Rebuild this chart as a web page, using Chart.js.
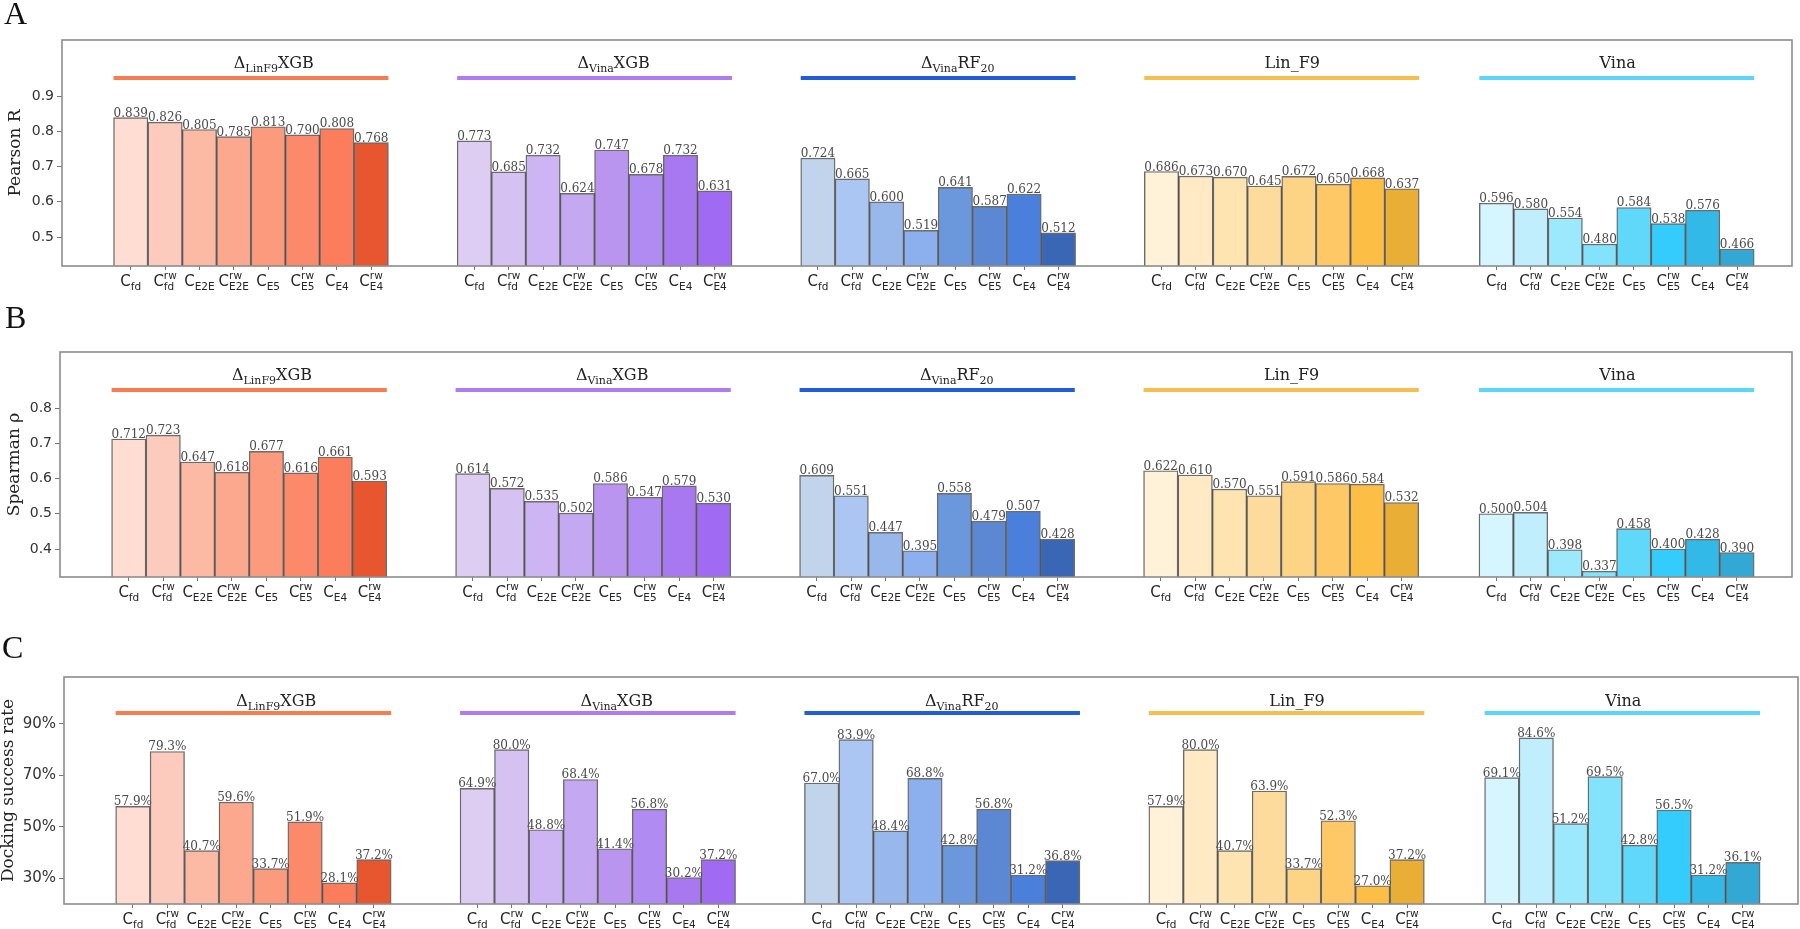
<!DOCTYPE html>
<html>
<head>
<meta charset="utf-8">
<script src="https://cdn.jsdelivr.net/npm/chart.js@4.4.0/dist/chart.umd.min.js"></script>
<style>
body{margin:0;background:#fff;width:1800px;height:929px;overflow:hidden;position:relative}
canvas{position:absolute;left:0}
</style>
</head>
<body>
<canvas id="chartA" width="1800" height="300" style="top:0px"></canvas>
<canvas id="chartB" width="1800" height="310" style="top:300px"></canvas>
<canvas id="chartC" width="1800" height="319" style="top:610px"></canvas>
<script>
// x tick labels: C with subscript / superscript
let configSubs = ["fd","fd","E2E","E2E","E5","E5","E4","E4"]
let configSups = ["","rw","","rw","","rw","","rw"]

// group titles, [text, "sub" | ""]
let groupTitles = [
    [["Δ",""],["LinF9","sub"],["XGB",""]],
    [["Δ",""],["Vina","sub"],["XGB",""]],
    [["Δ",""],["Vina","sub"],["RF",""],["20","sub"]],
    [["Lin_F9",""]],
    [["Vina",""]]
]

// A - Pearson R
let pearsonR = [
    [0.839,0.826,0.805,0.785,0.813,0.790,0.808,0.768],
    [0.773,0.685,0.732,0.624,0.747,0.678,0.732,0.631],
    [0.724,0.665,0.600,0.519,0.641,0.587,0.622,0.512],
    [0.686,0.673,0.670,0.645,0.672,0.650,0.668,0.637],
    [0.596,0.580,0.554,0.480,0.584,0.538,0.576,0.466]
]
let pearsonTicks = [0.5,0.6,0.7,0.8,0.9]

// B - Spearman rho
let spearmanRho = [
    [0.712,0.723,0.647,0.618,0.677,0.616,0.661,0.593],
    [0.614,0.572,0.535,0.502,0.586,0.547,0.579,0.530],
    [0.609,0.551,0.447,0.395,0.558,0.479,0.507,0.428],
    [0.622,0.610,0.570,0.551,0.591,0.586,0.584,0.532],
    [0.500,0.504,0.398,0.337,0.458,0.400,0.428,0.390]
]
let spearmanTicks = [0.4,0.5,0.6,0.7,0.8]

// C - docking success rate (%)
let dockingRate = [
    [57.9,79.3,40.7,59.6,33.7,51.9,28.1,37.2],
    [64.9,80.0,48.8,68.4,41.4,56.8,30.2,37.2],
    [67.0,83.9,48.4,68.8,42.8,56.8,31.2,36.8],
    [57.9,80.0,40.7,63.9,33.7,52.3,27.0,37.2],
    [69.1,84.6,51.2,69.5,42.8,56.5,31.2,36.1]
]
let dockingTicks = [30,50,70,90]

// layout / style
let groupStart = [0,10,20,30,39.75]
let lineColors = ["#f57d50","#b07bf0","#1f5ed6","#f5be4e","#5bd6fa"]
let barColors = [
    ["#ffddd3","#fdcbbe","#fcb9a4","#fca88f","#fc9a7e","#fc8a6a","#fb7d5b","#e8562f"],
    ["#ddcdf2","#d5c2f2","#ccb5f2","#c4a8f2","#b995f0","#b08bf2","#a878f0","#a06af2"],
    ["#c2d3ec","#abc6f2","#98b8ec","#8cb0ee","#6b97dc","#5c88d3","#4a80dc","#3a66b6"],
    ["#fff2d9","#ffeac5","#fee4b0","#fddb9c","#fdd385","#fdc865","#fdbe45","#e8ae35"],
    ["#d6f6ff","#c0eefc","#9ce8fd","#84e3fc","#5fd8fa","#34ccfc","#33b9e8","#34a8d4"]
]

Chart.defaults.font.family = "'DejaVu Sans', sans-serif"

function drawRich(ctx, segs, x, y, font, subFont, subShift){
    let cx = x
    for(let s of segs){
        ctx.font = s[1] === "sub" ? subFont : font
        ctx.fillText(s[0], cx, s[1] === "sub" ? y + subShift : y)
        cx += ctx.measureText(s[0]).width
    }
}

function decorPlugin(p){
    return {
        id: "decor" + p.letter,
        afterDraw(chart){
            let ctx = chart.ctx
            let area = chart.chartArea
            let xs = chart.scales.x
            let ys = chart.scales.y
            ctx.save()

            // frame
            ctx.strokeStyle = "#8c8c8c"
            ctx.lineWidth = 1.6
            ctx.strokeRect(area.left, area.top, area.right - area.left, area.bottom - area.top)

            // value labels
            let meta = chart.getDatasetMeta(0)
            ctx.fillStyle = "#4a4a4a"
            ctx.font = "12px 'DejaVu Serif'"
            ctx.textAlign = "center"
            ctx.textBaseline = "alphabetic"
            meta.data.forEach((bar, idx) => {
                let v = chart.data.datasets[0].data[idx].y
                ctx.fillText(p.fmt(v), bar.x, bar.y - 1)
            })

            // x tick labels
            ctx.fillStyle = "#262626"
            ctx.textAlign = "left"
            groupStart.forEach(g => {
                configSubs.forEach((sub, i) => {
                    let cx = xs.getPixelForValue(g + i)
                    ctx.font = "15px 'DejaVu Sans'"
                    let wC = ctx.measureText("C").width
                    ctx.font = "10.5px 'DejaVu Sans'"
                    let wS = Math.max(ctx.measureText(sub).width, ctx.measureText(configSups[i]).width)
                    let left = cx - (wC + wS) / 2
                    let base = area.bottom + 20
                    ctx.font = "15px 'DejaVu Sans'"
                    ctx.fillText("C", left, base)
                    ctx.font = "10.5px 'DejaVu Sans'"
                    ctx.fillText(sub, left + wC, base + 4)
                    if(configSups[i]) ctx.fillText(configSups[i], left + wC, base - 7)
                })
            })

            // group lines and titles
            groupStart.forEach((g, k) => {
                let x0 = xs.getPixelForValue(g - 0.5)
                let x1 = xs.getPixelForValue(g + 7.5)
                let ly = ys.getPixelForValue(p.lineAt)
                ctx.strokeStyle = lineColors[k]
                ctx.lineWidth = 4
                ctx.beginPath()
                ctx.moveTo(x0, ly)
                ctx.lineTo(x1, ly)
                ctx.stroke()
                ctx.fillStyle = "#222"
                drawRich(ctx, groupTitles[k], xs.getPixelForValue(g + 3), ys.getPixelForValue(p.titleAt),
                    "16px 'DejaVu Serif'", "11px 'DejaVu Serif'", 4)
            })

            // panel letter
            ctx.fillStyle = "#111"
            ctx.font = "32px 'Liberation Serif'"
            ctx.fillText(p.letter, p.letterX, p.letterY)
            ctx.restore()
        }
    }
}

function makePanel(p){
    let points = []
    let colors = []
    p.values.forEach((grp, g) => {
        grp.forEach((v, i) => {
            points.push({x: groupStart[g] + i, y: v})
            colors.push(barColors[g][i])
        })
    })
    let tickPositions = points.map(pt => pt.x)
    return new Chart(document.getElementById(p.id), {
        type: "bar",
        data: {
            datasets: [{
                data: points,
                backgroundColor: colors,
                borderColor: "rgba(0,0,0,0.58)",
                borderWidth: 1.4,
                borderSkipped: "start",
                barPercentage: 1,
                categoryPercentage: 1
            }]
        },
        options: {
            responsive: false,
            animation: false,
            layout: {padding: {top: p.top, left: 0, right: p.right, bottom: 0}},
            plugins: {legend: {display: false}, tooltip: {enabled: false}},
            scales: {
                x: {
                    type: "linear",
                    min: -2,
                    max: 48.35,
                    offset: false,
                    grid: {drawOnChartArea: false, offset: false, tickLength: 4, color: "#777"},
                    border: {display: false},
                    ticks: {autoSkip: false, maxRotation: 0, callback: () => ""},
                    afterBuildTicks: s => { s.ticks = tickPositions.map(v => ({value: v})) },
                    afterFit: s => { s.height = p.xHeight }
                },
                y: {
                    min: p.yMin,
                    max: p.yMax,
                    grid: {drawOnChartArea: false, tickLength: 5, color: "#777"},
                    border: {display: false},
                    ticks: {
                        padding: 3,
                        color: "#333",
                        font: {size: p.tickSize},
                        callback: p.tickFmt
                    },
                    afterBuildTicks: s => { s.ticks = p.ticks.map(v => ({value: v})) },
                    afterFit: s => { s.width = p.left },
                    title: {
                        display: true,
                        text: p.yTitle,
                        color: "#222",
                        font: {family: "'DejaVu Serif'", size: 17, lineHeight: 1},
                        padding: {top: p.titlePad, bottom: 0}
                    }
                }
            }
        },
        plugins: [decorPlugin(p)]
    })
}

makePanel({
    id: "chartA", letter: "A", letterX: 4, letterY: 24,
    values: pearsonR, ticks: pearsonTicks,
    yMin: 0.418, yMax: 1.059, lineAt: 0.951, titleAt: 0.979,
    top: 40, left: 62, right: 8, xHeight: 34, titlePad: 7, tickSize: 14,
    yTitle: "Pearson R",
    tickFmt: v => v.toFixed(1),
    fmt: v => v.toFixed(3)
})

makePanel({
    id: "chartB", letter: "B", letterX: 5, letterY: 28,
    values: spearmanRho, ticks: spearmanTicks,
    yMin: 0.3206, yMax: 0.959, lineAt: 0.851, titleAt: 0.879,
    top: 52, left: 60, right: 8, xHeight: 33, titlePad: 6, tickSize: 14,
    yTitle: "Spearman ρ",
    tickFmt: v => v.toFixed(1),
    fmt: v => v.toFixed(3)
})

makePanel({
    id: "chartC", letter: "C", letterX: 2, letterY: 48,
    values: dockingRate, ticks: dockingTicks,
    yMin: 19.9, yMax: 108.3, lineAt: 94.3, titleAt: 97.0,
    top: 67, left: 64, right: 2, xHeight: 25, titlePad: 0, tickSize: 15,
    yTitle: "Docking success rate",
    tickFmt: v => v + "%",
    fmt: v => v.toFixed(1) + "%"
})
</script>
</body>
</html>
